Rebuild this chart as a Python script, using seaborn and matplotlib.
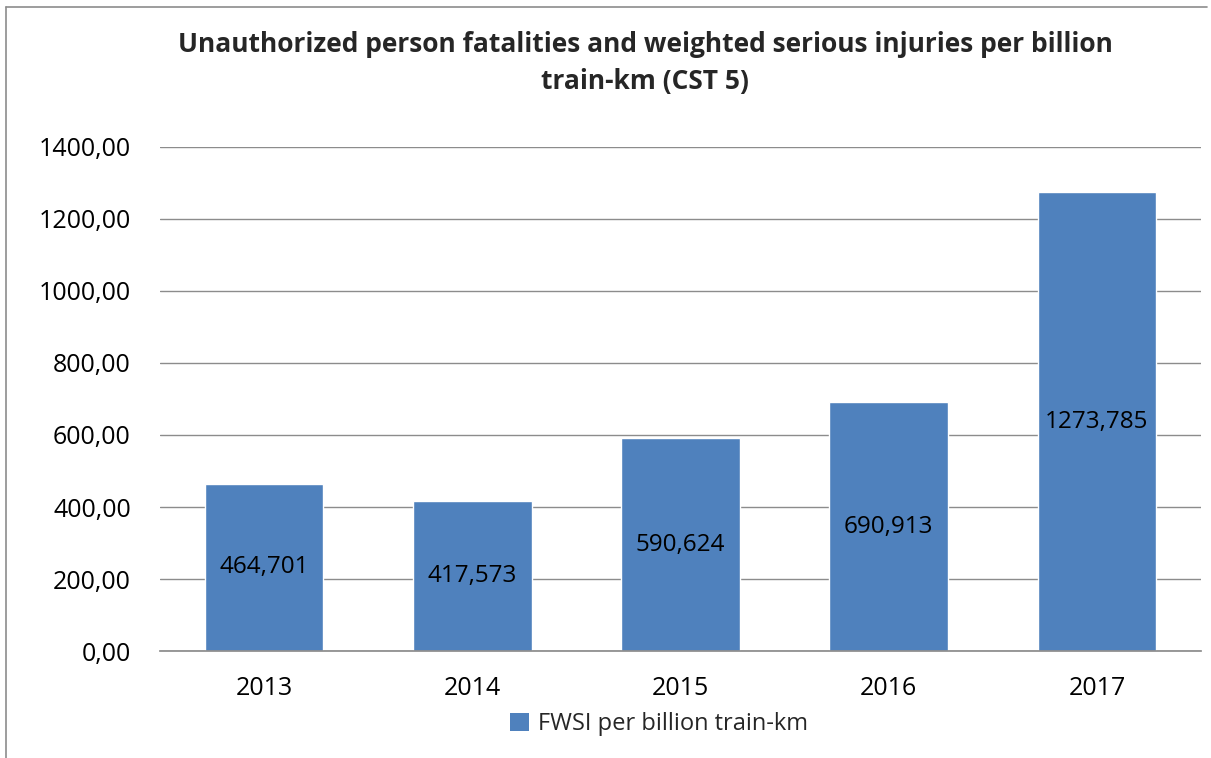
import matplotlib
matplotlib.use("Agg")
import matplotlib.pyplot as plt
import seaborn as sns
import pandas as pd
from matplotlib.ticker import FuncFormatter
from matplotlib.patches import Patch
from matplotlib.lines import Line2D

years = ["2013", "2014", "2015", "2016", "2017"]
values = [464.701, 417.573, 590.624, 690.913, 1273.785]
value_labels = ["464,701", "417,573", "590,624", "690,913", "1273,785"]
series_name = "FWSI per billion train-km"
title = "Unauthorized person fatalities and weighted serious injuries per billion\ntrain-km (CST 5)"

sns.set_theme(style="white")
plt.rcParams['font.family'] = ['Open Sans', 'DejaVu Sans']

df = pd.DataFrame({"year": years, "value": values})
color = "#4F81BD"

fig = plt.figure(figsize=(12.11, 7.58), dpi=100)
ax = fig.add_axes([160/1211, 1 - 651/758, (1201-160)/1211, (651-147)/758])

sns.barplot(data=df, x="year", y="value", color=color, width=0.57, ax=ax, saturation=1)

ax.set_ylim(0, 1400)
ax.set_yticks(range(0, 1401, 200))
ax.yaxis.set_major_formatter(FuncFormatter(lambda v, p: f"{v:.2f}".replace(".", ",")))
ax.grid(axis="y", color="#8c8c8c", linewidth=1)
ax.set_axisbelow(True)
for s in ["top", "right", "left"]:
    ax.spines[s].set_visible(False)
ax.spines["bottom"].set_color("#8c8c8c")
ax.tick_params(axis="y", labelsize=18, colors="black", length=0, pad=21)
ax.tick_params(axis="x", labelsize=18, colors="black", length=0, pad=18)
ax.set_xlabel("")
ax.set_ylabel("")

for i, (v, lbl) in enumerate(zip(values, value_labels)):
    ax.text(i, v / 2, lbl, ha="center", va="center", fontsize=17.5, color="black")

fig.text(645/1211, 1 - 63/758, title, ha="center", va="center", fontsize=19, fontweight="bold", linespacing=1.45)

handle = Patch(facecolor=color, edgecolor="none")
fig.legend([handle], [series_name], loc="center", bbox_to_anchor=(659/1211, 1 - 724/758),
           frameon=False, fontsize=17, handlelength=0.8, handleheight=0.8, handletextpad=0.4)

# outer chart border (left, top)
fig.add_artist(Line2D([6/1211, 6/1211], [0, 1 - 7/758], transform=fig.transFigure, color="#8c8c8c", linewidth=1.2))
fig.add_artist(Line2D([6/1211, 1207/1211], [1 - 7/758, 1 - 7/758], transform=fig.transFigure, color="#8c8c8c", linewidth=1.2))

fig.savefig("out.png", dpi=100)
